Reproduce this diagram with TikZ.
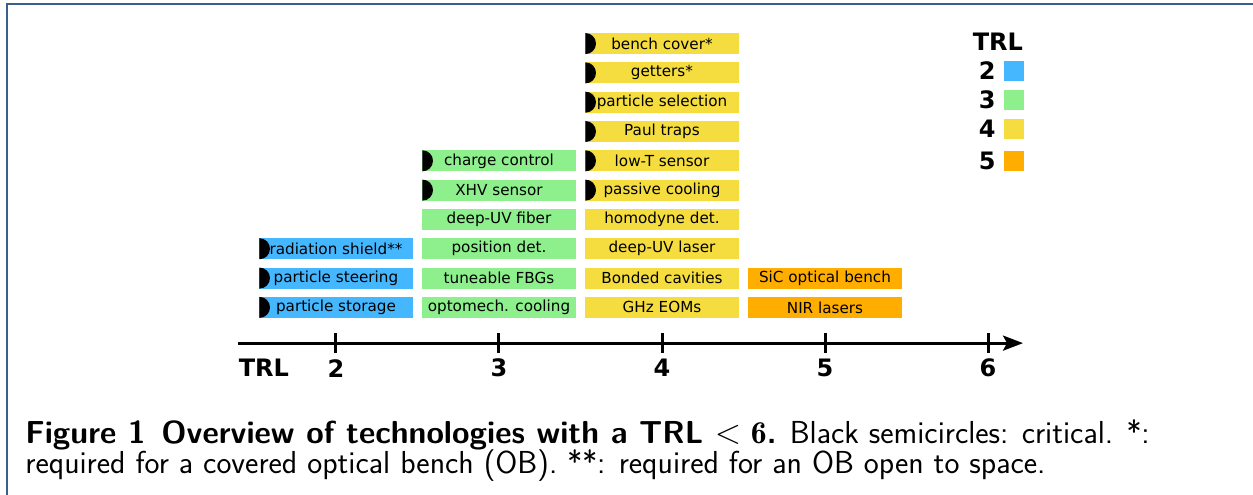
\documentclass[tikz,border=0pt]{standalone}
\usepackage{fontspec}
\newfontfamily\boxfont{DejaVu Sans}
\usetikzlibrary{arrows.meta}
\definecolor{trltwo}{HTML}{45B7FF}
\definecolor{trlthree}{HTML}{8DF08D}
\definecolor{trlfour}{HTML}{F5DD3F}
\definecolor{trlfive}{HTML}{FFAE00}
\definecolor{framecol}{HTML}{3A5F8C}
\tikzset{
  tech/.style={minimum width=76.5pt, minimum height=10.5pt, inner sep=0pt,
    font=\boxfont\fontsize{7.6}{9}\selectfont},
  trlII/.style={tech, fill=trltwo},
  trlIII/.style={tech, fill=trlthree},
  trlIV/.style={tech, fill=trlfour},
  trlV/.style={tech, fill=trlfive},
  critical/.style={path picture={\fill[black] (path picture bounding box.west) circle (5.25pt);}},
  axlabel/.style={inner sep=0pt, font=\boxfont\bfseries\fontsize{12}{14}\selectfont},
  legsq/.style={minimum size=10pt, inner sep=0pt},
  caption/.style={inner sep=0pt, anchor=base west, font=\sffamily\fontsize{15.9}{18}\selectfont}
}
\begin{document}
\begin{tikzpicture}[x=2.864cm, y=0.515cm]
\useasboundingbox (-0.0613,-5.1536) rectangle (7.6258,11.7065);
% frame
\draw[framecol, line width=0.9pt] (7.7,11.570) -- (-0.0184,11.570) -- (-0.0184,-5.3);
% axis
\coordinate (axL) at (1.399,0);
\coordinate (axR) at (6.215,0);
\draw[line width=1.5pt, -{Stealth[length=10pt, width=7.5pt, inset=2pt]}] (axL) -- (axR);
\foreach \t in {2,...,6}
  \draw[line width=1.5pt] (\t,0) ++(0,5pt) -- ++(0,-10pt);
\node[axlabel] (trlaxis) at (1.558,-0.853) {TRL};
\foreach \t in {2,...,6}
  \node[axlabel] (tick\t) at (\t,-0.853) {\t};
% TRL 2
\node[trlII, critical] (storage) at (2,1.22) {particle storage};
\node[trlII, critical] (steering) at (2,2.22) {particle steering};
\node[trlII, critical] (shield) at (2,3.22) {radiation shield**};
% TRL 3
\node[trlIII] (optomech) at (3,1.22) {optomech. cooling};
\node[trlIII] (fbg) at (3,2.22) {tuneable FBGs};
\node[trlIII] (posdet) at (3,3.22) {position det.};
\node[trlIII] (uvfiber) at (3,4.22) {deep-UV fiber};
\node[trlIII, critical] (xhv) at (3,5.22) {XHV sensor};
\node[trlIII, critical] (charge) at (3,6.22) {charge control};
% TRL 4
\node[trlIV] (eom) at (4,1.22) {GHz EOMs};
\node[trlIV] (cavities) at (4,2.22) {Bonded cavities};
\node[trlIV] (uvlaser) at (4,3.22) {deep-UV laser};
\node[trlIV] (homodyne) at (4,4.22) {homodyne det.};
\node[trlIV, critical] (passive) at (4,5.22) {passive cooling};
\node[trlIV, critical] (lowT) at (4,6.22) {low-T sensor};
\node[trlIV, critical] (paul) at (4,7.22) {Paul traps};
\node[trlIV, critical] (selection) at (4,8.22) {particle selection};
\node[trlIV, critical] (getters) at (4,9.22) {getters*};
\node[trlIV, critical] (cover) at (4,10.22) {bench cover*};
% TRL 5
\node[trlV] (nir) at (5,1.22) {NIR lasers};
\node[trlV] (sic) at (5,2.22) {SiC optical bench};
% legend
\node[axlabel] (legtitle) at (6.061,10.273) {TRL};
\node[axlabel, anchor=east] (leg2) at (6.049,9.283) {2};
\node[axlabel, anchor=east] (leg3) at (6.049,8.294) {3};
\node[axlabel, anchor=east] (leg4) at (6.049,7.304) {4};
\node[axlabel, anchor=east] (leg5) at (6.049,6.212) {5};
\node[legsq, fill=trltwo] (sq2) at (6.160,9.283) {};
\node[legsq, fill=trlthree] (sq3) at (6.160,8.294) {};
\node[legsq, fill=trlfour] (sq4) at (6.160,7.304) {};
\node[legsq, fill=trlfive] (sq5) at (6.160,6.212) {};
% caption
\node[caption] (capA) at (0.092,-3.413) {\textbf{Figure 1\enspace Overview of technologies with a TRL $<\mathbf{6}$.} Black semicircles: critical. *:};
\node[caption] (capB) at (0.092,-4.437) {required for a covered optical bench (OB). **: required for an OB open to space.};
\end{tikzpicture}
\end{document}
